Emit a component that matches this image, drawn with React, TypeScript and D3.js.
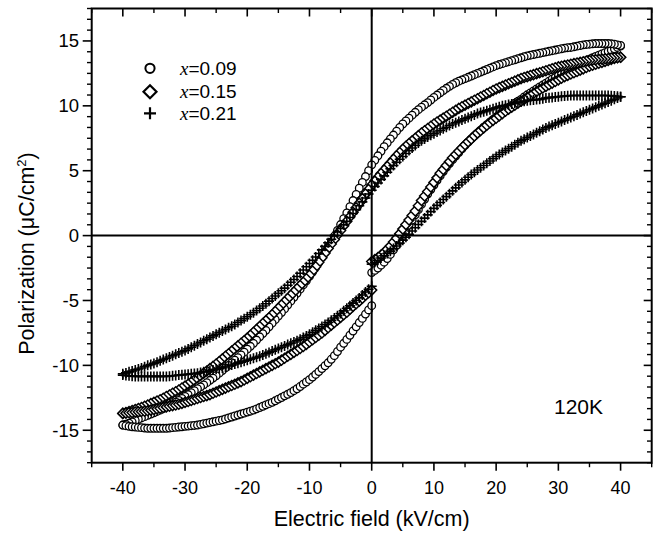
import React from 'react';
import * as d3 from 'd3';

// Electric field values along each branch of the loops (kV/cm)
const E_UP = [0,0.5,1,1.5,2,2.5,3,3.5,4,4.5,5,5.5,6,6.5,7,7.5,8,8.5,9,9.5,10,10.5,11,11.5,12,12.5,13,13.5,14,14.5,15,15.5,16,16.5,17,17.5,18,18.5,19,19.5,20,20.5,21,21.5,22,22.5,23,23.5,24,24.5,25,25.5,26,26.5,27,27.5,28,28.5,29,29.5,30,30.5,31,31.5,32,32.5,33,33.5,34,34.5,35,35.5,36,36.5,37,37.5,38,38.5,39,39.5,40];
const E_DOWN = [40,39.5,39,38.5,38,37.5,37,36.5,36,35.5,35,34.5,34,33.5,33,32.5,32,31.5,31,30.5,30,29.5,29,28.5,28,27.5,27,26.5,26,25.5,25,24.5,24,23.5,23,22.5,22,21.5,21,20.5,20,19.5,19,18.5,18,17.5,17,16.5,16,15.5,15,14.5,14,13.5,13,12.5,12,11.5,11,10.5,10,9.5,9,8.5,8,7.5,7,6.5,6,5.5,5,4.5,4,3.5,3,2.5,2,1.5,1,0.5,0,-0.5,-1,-1.5,-2,-2.5,-3,-3.5,-4,-4.5,-5,-5.5,-6,-6.5,-7,-7.5,-8,-8.5,-9,-9.5,-10,-10.5,-11,-11.5,-12,-12.5,-13,-13.5,-14,-14.5,-15,-15.5,-16,-16.5,-17,-17.5,-18,-18.5,-19,-19.5,-20,-20.5,-21,-21.5,-22,-22.5,-23,-23.5,-24,-24.5,-25,-25.5,-26,-26.5,-27,-27.5,-28,-28.5,-29,-29.5,-30,-30.5,-31,-31.5,-32,-32.5,-33,-33.5,-34,-34.5,-35,-35.5,-36,-36.5,-37,-37.5,-38,-38.5,-39,-39.5,-40];
const E_RET = [-40,-39.5,-39,-38.5,-38,-37.5,-37,-36.5,-36,-35.5,-35,-34.5,-34,-33.5,-33,-32.5,-32,-31.5,-31,-30.5,-30,-29.5,-29,-28.5,-28,-27.5,-27,-26.5,-26,-25.5,-25,-24.5,-24,-23.5,-23,-22.5,-22,-21.5,-21,-20.5,-20,-19.5,-19,-18.5,-18,-17.5,-17,-16.5,-16,-15.5,-15,-14.5,-14,-13.5,-13,-12.5,-12,-11.5,-11,-10.5,-10,-9.5,-9,-8.5,-8,-7.5,-7,-6.5,-6,-5.5,-5,-4.5,-4,-3.5,-3,-2.5,-2,-1.5,-1,-0.5,0];

// x = 0.09 (circles), polarization in uC/cm2
const P09_UP = [-2.85,-2.68,-2.5,-2.28,-2.05,-1.77,-1.45,-1.1,-0.75,-0.38,0.0,0.4,0.8,1.2,1.6,2.0,2.4,2.8,3.2,3.55,3.9,4.25,4.6,4.93,5.25,5.55,5.85,6.13,6.4,6.68,6.95,7.2,7.45,7.68,7.9,8.13,8.35,8.55,8.75,8.95,9.15,9.33,9.5,9.68,9.85,10.03,10.2,10.35,10.5,10.68,10.85,11.0,11.15,11.3,11.45,11.6,11.75,11.9,12.05,12.18,12.3,12.45,12.6,12.73,12.85,12.98,13.1,13.23,13.35,13.48,13.6,13.7,13.8,13.9,14.0,14.1,14.2,14.3,14.4,14.5,14.6];
const P09_DOWN = [14.65,14.7,14.75,14.78,14.8,14.8,14.8,14.8,14.8,14.78,14.75,14.73,14.7,14.65,14.6,14.55,14.5,14.48,14.45,14.4,14.35,14.3,14.25,14.2,14.15,14.1,14.05,14.0,13.95,13.9,13.85,13.78,13.7,13.63,13.55,13.48,13.4,13.33,13.25,13.18,13.1,13.0,12.9,12.8,12.7,12.6,12.5,12.4,12.3,12.2,12.1,12.0,11.9,11.78,11.65,11.5,11.35,11.18,11.0,10.83,10.65,10.45,10.25,10.08,9.9,9.7,9.5,9.28,9.05,8.83,8.6,8.33,8.05,7.75,7.45,7.15,6.85,6.5,6.15,5.8,5.45,5.0,4.55,4.1,3.65,3.18,2.7,2.23,1.75,1.3,0.85,0.4,-0.05,-0.48,-0.9,-1.3,-1.7,-2.08,-2.45,-2.8,-3.15,-3.48,-3.8,-4.13,-4.45,-4.75,-5.05,-5.35,-5.65,-5.93,-6.2,-6.48,-6.75,-7.03,-7.3,-7.55,-7.8,-8.05,-8.3,-8.53,-8.75,-8.98,-9.2,-9.4,-9.6,-9.8,-10.0,-10.2,-10.4,-10.6,-10.8,-10.98,-11.15,-11.33,-11.5,-11.65,-11.8,-11.95,-12.1,-12.25,-12.4,-12.55,-12.7,-12.83,-12.95,-13.08,-13.2,-13.33,-13.45,-13.55,-13.65,-13.75,-13.85,-13.95,-14.05,-14.15,-14.25,-14.35,-14.45,-14.53,-14.6];
const P09_RET = [-14.6,-14.65,-14.7,-14.73,-14.75,-14.78,-14.8,-14.83,-14.85,-14.85,-14.85,-14.85,-14.85,-14.85,-14.85,-14.83,-14.8,-14.78,-14.75,-14.73,-14.7,-14.68,-14.65,-14.63,-14.6,-14.55,-14.5,-14.45,-14.4,-14.35,-14.3,-14.25,-14.2,-14.13,-14.05,-13.98,-13.9,-13.83,-13.75,-13.68,-13.6,-13.53,-13.45,-13.35,-13.25,-13.15,-13.05,-12.95,-12.85,-12.73,-12.6,-12.48,-12.35,-12.23,-12.1,-11.95,-11.8,-11.63,-11.45,-11.28,-11.1,-10.9,-10.7,-10.48,-10.25,-10.03,-9.8,-9.53,-9.25,-8.93,-8.6,-8.3,-8.0,-7.68,-7.35,-7.03,-6.7,-6.38,-6.05,-5.73,-5.4];

// x = 0.15 (diamonds)
const P15_UP = [-2.0,-1.85,-1.7,-1.5,-1.3,-1.05,-0.8,-0.5,-0.2,0.15,0.5,0.85,1.2,1.55,1.9,2.3,2.7,3.05,3.4,3.75,4.1,4.45,4.8,5.1,5.4,5.7,6.0,6.25,6.5,6.75,7.0,7.23,7.45,7.68,7.9,8.1,8.3,8.5,8.7,8.88,9.05,9.23,9.4,9.58,9.75,9.9,10.05,10.2,10.35,10.5,10.65,10.8,10.95,11.1,11.25,11.38,11.5,11.63,11.75,11.88,12.0,12.13,12.25,12.35,12.45,12.55,12.65,12.75,12.85,12.95,13.05,13.13,13.2,13.28,13.35,13.43,13.5,13.58,13.65,13.7,13.75];
const P15_DOWN = [13.75,13.73,13.7,13.68,13.65,13.63,13.6,13.58,13.55,13.53,13.5,13.45,13.4,13.35,13.3,13.25,13.2,13.15,13.1,13.05,13.0,12.93,12.85,12.78,12.7,12.63,12.55,12.48,12.4,12.33,12.25,12.18,12.1,12.0,11.9,11.8,11.7,11.6,11.5,11.4,11.3,11.18,11.05,10.93,10.8,10.68,10.55,10.43,10.3,10.18,10.05,9.93,9.8,9.65,9.5,9.35,9.2,9.05,8.9,8.75,8.6,8.43,8.25,8.08,7.9,7.7,7.5,7.3,7.1,6.88,6.65,6.4,6.15,5.88,5.6,5.33,5.05,4.78,4.5,4.2,3.9,3.55,3.2,2.85,2.5,2.15,1.8,1.45,1.1,0.75,0.4,0.05,-0.3,-0.65,-1.0,-1.35,-1.7,-2.05,-2.4,-2.73,-3.05,-3.33,-3.6,-3.85,-4.1,-4.35,-4.6,-4.85,-5.1,-5.35,-5.6,-5.85,-6.1,-6.33,-6.55,-6.78,-7.0,-7.23,-7.45,-7.68,-7.9,-8.1,-8.3,-8.5,-8.7,-8.9,-9.1,-9.3,-9.5,-9.7,-9.9,-10.08,-10.25,-10.43,-10.6,-10.78,-10.95,-11.13,-11.3,-11.45,-11.6,-11.75,-11.9,-12.03,-12.15,-12.28,-12.4,-12.53,-12.65,-12.75,-12.85,-12.95,-13.05,-13.15,-13.25,-13.33,-13.4,-13.48,-13.55,-13.63,-13.7];
const P15_RET = [-13.7,-13.68,-13.65,-13.63,-13.6,-13.58,-13.55,-13.53,-13.5,-13.45,-13.4,-13.35,-13.3,-13.25,-13.2,-13.15,-13.1,-13.05,-13.0,-12.93,-12.85,-12.78,-12.7,-12.63,-12.55,-12.48,-12.4,-12.33,-12.25,-12.15,-12.05,-11.95,-11.85,-11.75,-11.65,-11.55,-11.45,-11.35,-11.25,-11.13,-11.0,-10.88,-10.75,-10.63,-10.5,-10.38,-10.25,-10.13,-10.0,-9.88,-9.75,-9.6,-9.45,-9.3,-9.15,-9.0,-8.85,-8.7,-8.55,-8.38,-8.2,-8.03,-7.85,-7.68,-7.5,-7.3,-7.1,-6.9,-6.7,-6.5,-6.3,-6.1,-5.9,-5.68,-5.45,-5.25,-5.05,-4.83,-4.6,-4.4,-4.2];

// x = 0.21 (crosses)
const P21_UP = [-2.2,-2.05,-1.9,-1.73,-1.55,-1.38,-1.2,-1.0,-0.8,-0.58,-0.35,-0.13,0.1,0.35,0.6,0.85,1.1,1.35,1.6,1.85,2.1,2.33,2.55,2.78,3.0,3.23,3.45,3.68,3.9,4.1,4.3,4.5,4.7,4.88,5.05,5.23,5.4,5.58,5.75,5.93,6.1,6.25,6.4,6.55,6.7,6.85,7.0,7.15,7.3,7.43,7.55,7.68,7.8,7.93,8.05,8.18,8.3,8.4,8.5,8.6,8.7,8.8,8.9,9.0,9.1,9.2,9.3,9.4,9.5,9.6,9.7,9.8,9.9,10.0,10.1,10.2,10.3,10.4,10.5,10.6,10.7];
const P21_DOWN = [10.7,10.73,10.75,10.78,10.8,10.8,10.8,10.8,10.8,10.8,10.8,10.8,10.8,10.8,10.8,10.8,10.8,10.78,10.75,10.73,10.7,10.68,10.65,10.63,10.6,10.55,10.5,10.48,10.45,10.43,10.4,10.35,10.3,10.25,10.2,10.15,10.1,10.05,10.0,9.93,9.85,9.78,9.7,9.63,9.55,9.48,9.4,9.3,9.2,9.1,9.0,8.9,8.8,8.7,8.6,8.48,8.35,8.23,8.1,7.98,7.85,7.73,7.6,7.45,7.3,7.13,6.95,6.75,6.55,6.33,6.1,5.88,5.65,5.4,5.15,4.88,4.6,4.33,4.05,3.78,3.5,3.2,2.9,2.6,2.3,2.0,1.7,1.4,1.1,0.83,0.55,0.28,0.0,-0.28,-0.55,-0.83,-1.1,-1.38,-1.65,-1.9,-2.15,-2.4,-2.65,-2.9,-3.15,-3.38,-3.6,-3.83,-4.05,-4.25,-4.45,-4.65,-4.85,-5.05,-5.25,-5.43,-5.6,-5.78,-5.95,-6.1,-6.25,-6.4,-6.55,-6.7,-6.85,-6.98,-7.1,-7.23,-7.35,-7.48,-7.6,-7.73,-7.85,-7.98,-8.1,-8.23,-8.35,-8.48,-8.6,-8.73,-8.85,-8.95,-9.05,-9.15,-9.25,-9.35,-9.45,-9.55,-9.65,-9.75,-9.85,-9.93,-10.0,-10.1,-10.2,-10.28,-10.35,-10.43,-10.5,-10.58,-10.65];
const P21_RET = [-10.75,-10.78,-10.8,-10.83,-10.85,-10.85,-10.85,-10.85,-10.85,-10.85,-10.85,-10.85,-10.85,-10.85,-10.85,-10.83,-10.8,-10.78,-10.75,-10.73,-10.7,-10.68,-10.65,-10.63,-10.6,-10.55,-10.5,-10.45,-10.4,-10.35,-10.3,-10.25,-10.2,-10.13,-10.05,-9.98,-9.9,-9.83,-9.75,-9.68,-9.6,-9.53,-9.45,-9.38,-9.3,-9.2,-9.1,-9.0,-8.9,-8.8,-8.7,-8.6,-8.5,-8.4,-8.3,-8.2,-8.1,-7.98,-7.85,-7.73,-7.6,-7.45,-7.3,-7.15,-7.0,-6.85,-6.7,-6.53,-6.35,-6.18,-6.0,-5.8,-5.6,-5.4,-5.2,-5.0,-4.8,-4.58,-4.35,-4.13,-3.9];

const SERIES_LABELS = ['=0.09', '=0.15', '=0.21'];
const X_TICKS = [-40, -30, -20, -10, 0, 10, 20, 30, 40];
const X_MINOR = [-45, -35, -25, -15, -5, 5, 15, 25, 35, 45];
const Y_TICKS = [-15, -10, -5, 0, 5, 10, 15];

const FONT = '"Liberation Sans", Arial, Helvetica, sans-serif';

type Kind = 'circle' | 'diamond' | 'plus';

function Marker({ kind, cx, cy, s, sw }: { kind: Kind; cx: number; cy: number; s: number; sw: number }) {
  if (kind === 'circle') {
    return <circle cx={cx} cy={cy} r={s} fill="#fff" stroke="#000" strokeWidth={sw} />;
  }
  if (kind === 'diamond') {
    return (
      <path
        d={`M${cx},${cy - s}L${cx + s},${cy}L${cx},${cy + s}L${cx - s},${cy}Z`}
        fill="#fff"
        stroke="#000"
        strokeWidth={sw}
      />
    );
  }
  return (
    <path d={`M${cx - s},${cy}H${cx + s}M${cx},${cy - s}V${cy + s}`} fill="none" stroke="#000" strokeWidth={sw} />
  );
}

export default function App() {
  const left = 91.7, right = 651.7, top = 8.5, bottom = 462.7;
  const x = d3.scaleLinear().domain([-45, 45]).range([left, right]);
  const y = d3.scaleLinear().domain([-17.5, 17.5]).range([bottom, top]);

  const yMinor = d3.range(-21, 22).filter((i) => i % 6 !== 0).map((i) => (i * 5) / 6);

  const series: { kind: Kind; s: number; sw: number; branches: [number[], number[]][] }[] = [
    { kind: 'circle', s: 3.8, sw: 1.3, branches: [[E_UP, P09_UP], [E_DOWN, P09_DOWN], [E_RET, P09_RET]] },
    { kind: 'diamond', s: 5, sw: 1.5, branches: [[E_UP, P15_UP], [E_DOWN, P15_DOWN], [E_RET, P15_RET]] },
    { kind: 'plus', s: 5, sw: 1.6, branches: [[E_UP, P21_UP], [E_DOWN, P21_DOWN], [E_RET, P21_RET]] },
  ];

  const legendKinds: Kind[] = ['circle', 'diamond', 'plus'];
  const legendY = [68.3, 91.7, 113.3];
  const legendSize = [4.6, 6.5, 6];
  const legendSw = [2, 2.2, 2.2];

  return (
    <svg
      width={656}
      height={533}
      style={{ position: 'absolute', left: 0, top: 0, background: '#fff' }}
      fontFamily={FONT}
    >
      <rect x={0} y={0} width={656} height={533} fill="#fff" />

      {series.map((sr, si) => (
        <g key={si}>
          {sr.branches.map(([es, ps], bi) =>
            es.map((e, i) => (
              <Marker key={`${bi}-${i}`} kind={sr.kind} cx={x(e)} cy={y(ps[i])} s={sr.s} sw={sr.sw} />
            ))
          )}
        </g>
      ))}

      <line x1={left} x2={right} y1={y(0)} y2={y(0)} stroke="#000" strokeWidth={2} />
      <line x1={x(0)} x2={x(0)} y1={top} y2={bottom} stroke="#000" strokeWidth={2} />

      <rect x={left} y={top} width={right - left} height={bottom - top} fill="none" stroke="#000" strokeWidth={2} />

      {X_TICKS.map((t) => (
        <g key={`xt${t}`}>
          <line x1={x(t)} x2={x(t)} y1={bottom} y2={bottom + 8} stroke="#000" strokeWidth={1.6} />
          <line x1={x(t)} x2={x(t)} y1={top} y2={top + 8} stroke="#000" strokeWidth={1.6} />
          <text x={x(t)} y={493.5} fontSize={18} textAnchor="middle" fill="#000">
            {t}
          </text>
        </g>
      ))}
      {X_MINOR.map((t) => (
        <g key={`xm${t}`}>
          <line x1={x(t)} x2={x(t)} y1={bottom} y2={bottom + 4.5} stroke="#000" strokeWidth={1.4} />
          <line x1={x(t)} x2={x(t)} y1={top} y2={top + 4.5} stroke="#000" strokeWidth={1.4} />
        </g>
      ))}

      {Y_TICKS.map((t) => (
        <g key={`yt${t}`}>
          <line x1={left - 9} x2={left} y1={y(t)} y2={y(t)} stroke="#000" strokeWidth={1.6} />
          <line x1={right - 8} x2={right} y1={y(t)} y2={y(t)} stroke="#000" strokeWidth={1.6} />
          <text x={79} y={y(t) + 6.3} fontSize={18.5} textAnchor="end" fill="#000">
            {t}
          </text>
        </g>
      ))}
      {yMinor.map((t) => (
        <g key={`ym${t}`}>
          <line x1={left - 4.7} x2={left} y1={y(t)} y2={y(t)} stroke="#000" strokeWidth={1.4} />
          <line x1={right - 4.7} x2={right} y1={y(t)} y2={y(t)} stroke="#000" strokeWidth={1.4} />
        </g>
      ))}

      {legendKinds.map((k, i) => (
        <g key={`lg${i}`}>
          <Marker kind={k} cx={150} cy={legendY[i]} s={legendSize[i]} sw={legendSw[i]} />
          <text x={180} y={legendY[i] + 6.3} fontSize={19} fill="#000">
            <tspan fontFamily='"Liberation Serif", "Times New Roman", serif' fontStyle="italic">
              x
            </tspan>
            {SERIES_LABELS[i]}
          </text>
        </g>
      ))}

      <text x={554} y={414} fontSize={21} fill="#000">
        120K
      </text>

      <text x={x(0)} y={526} fontSize={21.5} textAnchor="middle" fill="#000">
        Electric field (kV/cm)
      </text>
      <text transform="translate(34,253.5) rotate(-90)" fontSize={21.5} textAnchor="middle" fill="#000">
        Polarization (μC/cm<tspan dy={-8} fontSize={13}>2</tspan>
        <tspan dy={8}>)</tspan>
      </text>
    </svg>
  );
}
